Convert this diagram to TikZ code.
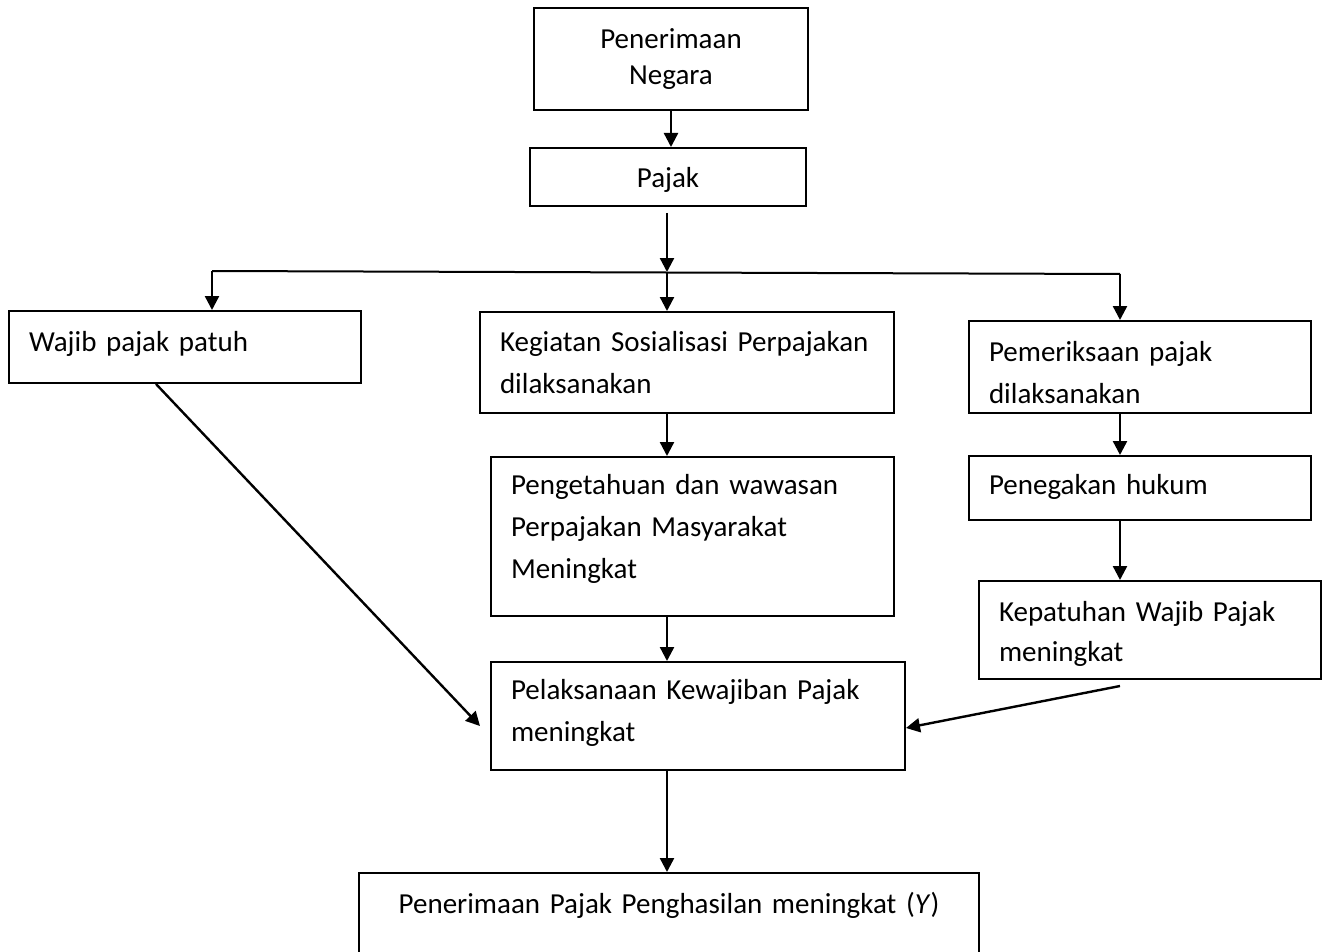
\documentclass[tikz,border=0pt]{standalone}
\usepackage{fontspec}
\setmainfont{Carlito}
\usetikzlibrary{arrows.meta}

\begin{document}
\begin{tikzpicture}[x=1pt, y=-1pt,
    stage/.style = {rectangle, draw, line width=2pt, anchor=north west, inner xsep=20pt, inner ysep=0pt, align=left},
    flow/.style = {-{Triangle[length=14pt, width=14pt]}, line width=2.4pt},
    font=\fontsize{29pt}{42pt}\selectfont]
  \useasboundingbox (0, 0) rectangle (1328, 952);

  % Boxes.
  \node at (533, 7) [stage, align=center, text width=234pt, text height=41pt, text depth=61pt, font=\fontsize{29pt}{36pt}\selectfont, name=Negara] {Penerimaan\\Negara};
  \node at (529, 147) [stage, align=center, text width=236pt, text height=40pt, text depth=18pt, name=Pajak] {Pajak};
  \node at (8, 310) [stage, text width=312pt, text height=40pt, text depth=32pt, name=Wajib] {Wajib pajak patuh};
  \node at (479, 311) [stage, text width=374pt, text height=39pt, text depth=62pt, name=Kegiatan] {Kegiatan Sosialisasi Perpajakan\\dilaksanakan};
  \node at (968, 320) [stage, text width=302pt, text height=40pt, text depth=52pt, name=Pemeriksaan] {Pemeriksaan pajak\\dilaksanakan};
  \node at (490, 456) [stage, text width=363pt, text height=37pt, text depth=122pt, name=Pengetahuan] {Pengetahuan dan wawasan\\Perpajakan Masyarakat\\Meningkat};
  \node at (968, 455) [stage, text width=302pt, text height=38pt, text depth=26pt, name=Penegakan] {Penegakan hukum};
  \node at (978, 580) [stage, text width=302pt, text height=40pt, text depth=58pt, font=\fontsize{29pt}{40pt}\selectfont, name=Kepatuhan] {Kepatuhan Wajib Pajak\\meningkat};
  \node at (490, 661) [stage, text width=374pt, text height=37pt, text depth=71pt, name=Pelaksanaan] {Pelaksanaan Kewajiban Pajak\\meningkat};
  \node at (358, 872) [stage, align=center, text width=580pt, text height=40pt, text depth=120pt, name=Penghasilan] {Penerimaan Pajak Penghasilan meningkat (\textit{Y})};

  % Split line below Pajak.
  \coordinate (split) at (667, 272);
  \coordinate (splitL) at (212, 271);
  \coordinate (splitR) at (1120, 274);
  \coordinate (kepOut) at ([yshift=-6pt]Kepatuhan.south);

  % Main flow.
  \draw [flow] (Negara.south)
               to (Negara.south |- Pajak.north);
  \draw [flow, shorten <=6pt] (Pajak.south -| split)
               to (split);
  \draw [line width=2pt] (splitL)
               to (splitR);
  \draw [flow] (splitL)
               to (splitL |- Wajib.north);
  \draw [flow] (split)
               to (split |- Kegiatan.north);
  \draw [flow] (splitR)
               to (splitR |- Pemeriksaan.north);

  % Middle column.
  \draw [flow] (Kegiatan.south -| split)
               to (Pengetahuan.north -| split);
  \draw [flow] (Pengetahuan.south -| split)
               to (Pelaksanaan.north -| split);
  \draw [flow] (Pelaksanaan.south -| split)
               to (Penghasilan.north -| split);

  % Right column.
  \draw [flow] (Pemeriksaan.south -| splitR)
               to (Penegakan.north -| splitR);
  \draw [flow] (Penegakan.south -| splitR)
               to (Kepatuhan.north -| splitR);

  % Into Pelaksanaan from the sides.
  \draw [flow] ([xshift=-29pt]Wajib.south)
               to ([xshift=-10pt, yshift=-10pt]Pelaksanaan.west);
  \draw [flow] (kepOut -| splitR)
               to ([yshift=-12pt]Pelaksanaan.east);
\end{tikzpicture}
\end{document}
